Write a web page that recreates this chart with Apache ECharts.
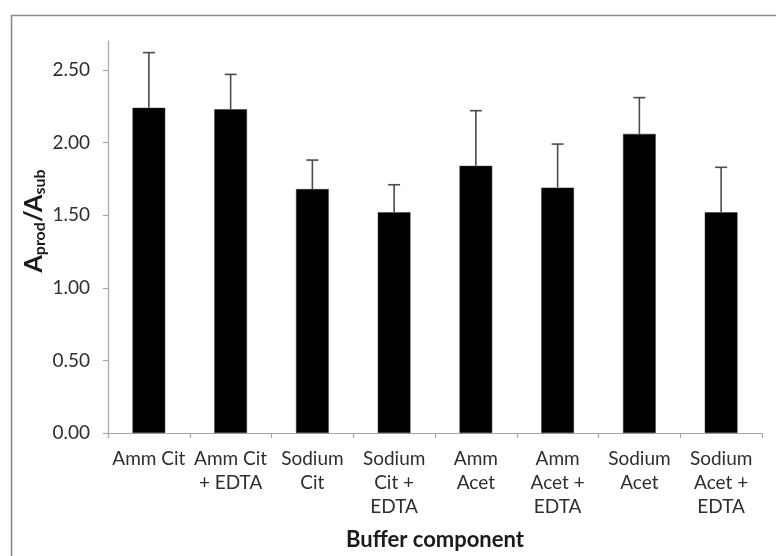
<!DOCTYPE html>
<html>
<head>
<meta charset="utf-8">
<title>Buffer component</title>
<script src="https://cdn.jsdelivr.net/npm/echarts@6/dist/echarts.min.js"></script>
<style>
  html, body { margin: 0; padding: 0; background: #ffffff; }
  #chart { width: 776px; height: 556px; }
</style>
</head>
<body>
<div id="chart"></div>
<script>
// Buffer conditions on the x axis
const categories = [
  'Amm Cit',
  'Amm Cit\n+ EDTA',
  'Sodium\nCit',
  'Sodium\nCit +\nEDTA',
  'Amm\nAcet',
  'Amm\nAcet +\nEDTA',
  'Sodium\nAcet',
  'Sodium\nAcet +\nEDTA'
];
// Mean product/substrate peak-area ratio per buffer
const ratioMeans = [2.24, 2.23, 1.68, 1.52, 1.84, 1.69, 2.06, 1.52];
// Upper error (standard deviation) per buffer
const ratioErrors = [0.38, 0.24, 0.20, 0.19, 0.38, 0.30, 0.25, 0.31];
// Value-axis tick labels
const yTickLabels = ['0.00', '0.50', '1.00', '1.50', '2.00', '2.50'];
// Axis titles
const xTitle = 'Buffer component';
const yTitle = '{a|A}{s|prod}{a|/A}{s|sub}';

const font = 'Lato, "Open Sans", sans-serif';
const chart = echarts.init(document.getElementById('chart'), null, { renderer: 'canvas' });

const errorData = categories.map((c, i) => [i, ratioMeans[i], ratioErrors[i]]);

chart.setOption({
  backgroundColor: '#ffffff',
  animation: false,
  graphic: [
    {
      type: 'rect',
      left: 9, top: 13,
      shape: { x: 0, y: 0, width: 800, height: 600 },
      style: { fill: 'none', stroke: '#8a8a8a', lineWidth: 1.6 },
      silent: true
    },
    {
      // rotated value-axis title with subscripts
      type: 'text',
      x: 34, y: 221,
      rotation: Math.PI / 2,
      silent: true,
      style: {
        text: yTitle,
        align: 'center',
        verticalAlign: 'middle',
        rich: {
          a: { fontFamily: font, fontSize: 25, fontWeight: 'bold', fill: '#1a1a1a', lineHeight: 28, verticalAlign: 'middle' },
          s: { fontFamily: font, fontSize: 16, fontWeight: 'bold', fill: '#1a1a1a', lineHeight: 12, verticalAlign: 'bottom' }
        }
      }
    }
  ],
  grid: { left: 108, right: 14, top: 41, bottom: 120, containLabel: false },
  xAxis: {
    type: 'category',
    data: categories,
    name: xTitle,
    nameLocation: 'middle',
    nameGap: 96,
    nameTextStyle: { fontFamily: font, fontSize: 22, fontWeight: 'bold', color: '#1a1a1a' },
    axisLine: { lineStyle: { color: '#a6a6a6', width: 1.2 } },
    axisTick: { show: true, alignWithLabel: false, length: 5, lineStyle: { color: '#a6a6a6', width: 1.2 } },
    axisLabel: {
      interval: 0, margin: 14, fontFamily: font, fontSize: 19,
      lineHeight: 24, color: '#2e2e2e', align: 'center'
    },
    splitLine: { show: false }
  },
  yAxis: {
    type: 'value',
    min: 0, max: 2.7, interval: 0.5,
    axisLine: { show: true, lineStyle: { color: '#a6a6a6', width: 1.2 } },
    axisTick: { show: true, length: 5, lineStyle: { color: '#a6a6a6', width: 1.2 } },
    axisLabel: {
      margin: 18, fontFamily: font, fontSize: 19, color: '#2e2e2e',
      showMaxLabel: false,
      formatter: (v) => {
        const idx = Math.round(v / 0.5);
        return Math.abs(v - idx * 0.5) < 1e-6 && yTickLabels[idx] ? yTickLabels[idx] : '';
      }
    },
    splitLine: { show: false }
  },
  series: [
    {
      type: 'bar',
      data: ratioMeans,
      barWidth: '40%',
      itemStyle: { color: '#000000', borderColor: '#333333', borderWidth: 0.5 },
      z: 2
    },
    {
      type: 'custom',
      data: errorData,
      z: 3,
      renderItem: (params, api) => {
        const x = api.value(0);
        const mean = api.value(1);
        const err = api.value(2);
        const base = api.coord([x, mean]);
        const top = api.coord([x, mean + err]);
        const half = 6;
        const style = { stroke: '#4a4a4a', lineWidth: 1.6 };
        return {
          type: 'group',
          children: [
            { type: 'line', shape: { x1: base[0], y1: base[1], x2: top[0], y2: top[1] }, style },
            { type: 'line', shape: { x1: top[0] - half, y1: top[1], x2: top[0] + half, y2: top[1] }, style }
          ]
        };
      }
    }
  ]
});
</script>
</body>
</html>
